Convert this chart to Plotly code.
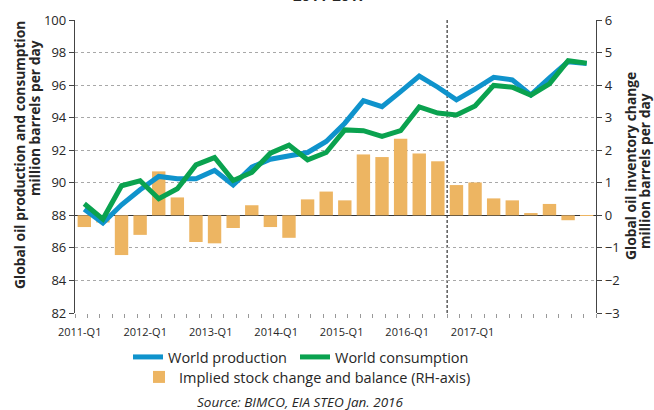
import plotly.graph_objects as go

quarters = [
    "2011-Q1", "2011-Q2", "2011-Q3", "2011-Q4",
    "2012-Q1", "2012-Q2", "2012-Q3", "2012-Q4",
    "2013-Q1", "2013-Q2", "2013-Q3", "2013-Q4",
    "2014-Q1", "2014-Q2", "2014-Q3", "2014-Q4",
    "2015-Q1", "2015-Q2", "2015-Q3", "2015-Q4",
    "2016-Q1", "2016-Q2", "2016-Q3", "2016-Q4",
    "2017-Q1", "2017-Q2", "2017-Q3", "2017-Q4",
]
production = [88.38, 87.53, 88.65, 89.57, 90.39, 90.25, 90.25, 90.76,
              89.86, 90.96, 91.45, 91.62, 91.86, 92.54, 93.66, 95.05,
              94.68, 95.60, 96.56, 95.87, 95.09, 95.75, 96.48, 96.32,
              95.40, 96.45, 97.44, 97.32]
consumption = [88.71, 87.77, 89.82, 90.12, 89.02, 89.63, 91.10, 91.55,
               90.14, 90.63, 91.82, 92.31, 91.41, 91.86, 93.25, 93.20,
               92.85, 93.20, 94.66, 94.28, 94.16, 94.72, 95.98, 95.87,
               95.38, 96.08, 97.50, 97.35]
stock_change = [-0.36, -0.22, -1.22, -0.60, 1.35, 0.55, -0.82, -0.86,
                -0.39, 0.31, -0.36, -0.69, 0.49, 0.73, 0.46, 1.87,
                1.79, 2.35, 1.90, 1.66, 0.93, 1.01, 0.52, 0.46,
                0.07, 0.35, -0.15, -0.02]
tick_labels = ["2011-Q1", "2012-Q1", "2013-Q1", "2014-Q1", "2015-Q1", "2016-Q1", "2017-Q1"]
forecast_start = "2016-Q1"

# layout-only settings
tick_positions = [-0.25, 3.27, 6.79, 10.31, 13.83, 17.35, 20.87]
BLUE = "#0f93cc"
GREEN = "#0aa24f"
ORANGE = "#edb562"
FONT = "Open Sans"
TXT = "#262626"

xs = list(range(len(quarters)))

fig = go.Figure()
fig.add_trace(go.Bar(
    x=xs, y=stock_change, name="Implied stock change and balance (RH-axis)",
    marker=dict(color=ORANGE, line=dict(width=0)), yaxis="y", legend="legend2",
    hovertext=quarters,
))
fig.add_trace(go.Scatter(
    x=xs, y=production, name="World production", mode="lines",
    line=dict(color=BLUE, width=5), yaxis="y2", legend="legend", hovertext=quarters,
))
fig.add_trace(go.Scatter(
    x=xs, y=consumption, name="World consumption", mode="lines",
    line=dict(color=GREEN, width=5), yaxis="y2", legend="legend3", hovertext=quarters,
))

W, H = 654, 410
ML, MR, MT, MB = 75, 58, 20, 97
PW, PH = W - ML - MR, H - MT - MB


def px_x(px):
    return (px - ML) / PW


def px_y(py):
    return (H - MB - py) / PH


leg_common = dict(orientation="h", xanchor="left", yanchor="middle",
                  font=dict(size=14.5, color=TXT), bgcolor="rgba(0,0,0,0)")

fig.update_layout(
    width=W, height=H,
    margin=dict(l=ML, r=MR, t=MT, b=MB, autoexpand=False),
    plot_bgcolor="white", paper_bgcolor="white",
    font=dict(family=FONT, color=TXT, size=13),
    bargap=0.28,
    xaxis=dict(
        range=[-0.5, len(quarters) - 0.5],
        tickmode="array", tickvals=tick_positions, ticktext=tick_labels,
        ticks="", showgrid=False, zeroline=False, showline=False,
        tickfont=dict(size=11, color=TXT), ticklabelstandoff=11,
        minor=dict(tickmode="linear", tick0=-0.5, dtick=2 / 3, ticks="outside",
                   ticklen=4, tickcolor="#999999", tickwidth=1, showgrid=False),
        automargin=False,
    ),
    yaxis=dict(
        side="right", range=[-3, 6], dtick=1,
        showgrid=True, gridcolor="#a8a8a8", griddash="3px,3px", gridwidth=1,
        zeroline=True, zerolinecolor="#333333", zerolinewidth=1.2,
        showline=True, linecolor="#444444", linewidth=1.3,
        ticks="outside", ticklen=5, tickcolor="#444444",
        tickfont=dict(size=13, color=TXT), automargin=False,
    ),
    yaxis2=dict(
        overlaying="y", side="left", range=[82, 100], dtick=2,
        showgrid=False, zeroline=False,
        showline=True, linecolor="#444444", linewidth=1.3,
        ticks="outside", ticklen=5, tickcolor="#444444",
        tickfont=dict(size=13, color=TXT), automargin=False,
    ),
    legend=dict(x=px_x(128), y=px_y(357), **leg_common),
    legend3=dict(x=px_x(295), y=px_y(357), **leg_common),
    legend2=dict(x=px_x(139), y=px_y(377), **leg_common),
    showlegend=True,
)

# forecast divider
div_x = quarters.index(forecast_start) - 0.5
fig.add_shape(type="line", xref="x", yref="paper", x0=div_x, x1=div_x, y0=0, y1=1,
              line=dict(color="#333333", width=1.2, dash="3px,2px"), layer="below")

TS = 13.8
ann = []
ann.append(dict(text="<b>2011-2017</b>", x=px_x(330), y=px_y(7), xref="paper", yref="paper",
                xanchor="center", yanchor="bottom", showarrow=False, font=dict(size=15, color=TXT)))
ann.append(dict(text="<b>Global oil production and consumption</b>", x=px_x(19), y=px_y(155),
                xref="paper", yref="paper", xanchor="center", yanchor="middle", textangle=-90,
                showarrow=False, font=dict(size=TS, color=TXT)))
ann.append(dict(text="<b>million barrels per day</b>", x=px_x(34), y=px_y(118),
                xref="paper", yref="paper", xanchor="center", yanchor="middle", textangle=-90,
                showarrow=False, font=dict(size=TS, color=TXT)))
ann.append(dict(text="<b>Global oil inventory change</b>", x=px_x(630), y=px_y(166),
                xref="paper", yref="paper", xanchor="center", yanchor="middle", textangle=-90,
                showarrow=False, font=dict(size=TS, color=TXT)))
ann.append(dict(text="<b>million barrels per day</b>", x=px_x(644), y=px_y(171),
                xref="paper", yref="paper", xanchor="center", yanchor="middle", textangle=-90,
                showarrow=False, font=dict(size=TS, color=TXT)))
ann.append(dict(text="<i>Source: BIMCO, EIA STEO Jan. 2016</i>", x=px_x(300), y=px_y(402),
                xref="paper", yref="paper", xanchor="center", yanchor="middle",
                showarrow=False, font=dict(size=13.5, color=TXT)))
fig.update_layout(annotations=ann)

fig.write_html("out.html", config={"displayModeBar": False},
               post_script="document.body.style.margin='0';document.body.style.padding='0';")
